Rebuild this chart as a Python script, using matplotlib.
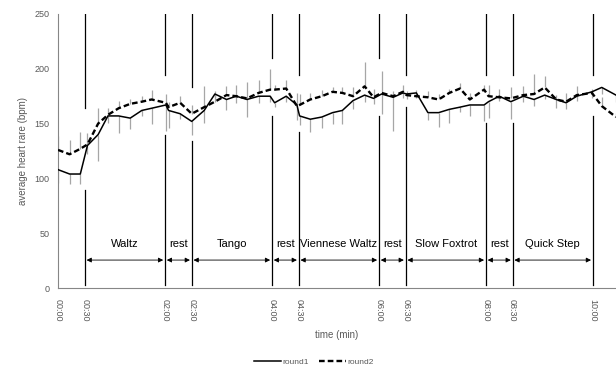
import matplotlib.pyplot as plt

plt.rcParams['font.family'] = ['Liberation Sans', 'DejaVu Sans']

# time of each sample (s) and mean heart rate for the two rounds
t_sec = [0, 13, 25, 33, 45, 56, 68, 81, 94, 105, 121, 124, 137, 150, 164,
         176, 189, 200, 212, 225, 238, 243, 256, 268, 271, 283, 296, 308,
         319, 331, 344, 354, 363, 376, 387, 391, 402, 415, 427, 439, 451,
         462, 478, 483, 495, 508, 522, 534, 546, 559, 570, 582, 599, 610, 626]
round1 = [108, 104, 104, 130, 140, 157, 157, 155, 162, 164, 167, 162, 159,
          152, 162, 177, 172, 175, 172, 175, 175, 169, 175, 167, 157, 154,
          156, 160, 162, 171, 176, 173, 177, 174, 178, 177, 178, 160, 160,
          163, 165, 167, 167, 170, 175, 170, 175, 172, 176, 172, 169, 175,
          179, 183, 176]
round2 = [126, 122, 127, 131, 150, 158, 164, 168, 170, 172, 169, 165, 169,
          159, 165, 170, 176, 175, 173, 178, 181, 181, 182, 166, 167, 172,
          175, 179, 178, 175, 184, 174, 178, 175, 179, 176, 175, 174, 172,
          178, 182, 172, 181, 175, 174, 173, 176, 177, 183, 172, 170, 176,
          178, 166, 156]
# error bars: round1 drawn below its line, round2 above
err1 = [12, 9, 9, 8, 24, 6, 16, 10, 5, 14, 24, 16, 5, 12, 11, 4, 10, 6, 16,
        6, 5, 4, 5, 14, 8, 12, 10, 10, 12, 8, 6, 5, 18, 31, 5, 5, 5, 7, 13,
        12, 4, 10, 15, 15, 4, 16, 5, 6, 4, 8, 6, 4, 6, 6, 6]
err2 = [13, 13, 15, 10, 14, 6, 7, 4, 5, 9, 8, 5, 6, 8, 19, 10, 8, 10, 15,
        12, 19, 4, 8, 12, 10, 6, 6, 4, 5, 8, 22, 8, 20, 5, 6, 4, 6, 6, 5, 4,
        5, 6, 4, 10, 8, 10, 8, 18, 10, 4, 8, 8, 4, 8, 4]

tick_sec = [0, 30, 120, 150, 240, 270, 360, 390, 480, 510, 600]
tick_labels = ['00:00', '00:30', '02:00', '02:30', '04:00', '04:30',
               '06:00', '06:30', '08:00', '08:30', '10:00']

# section boundaries and where each vertical marker is broken around the data
bounds = [30, 120, 150, 240, 270, 360, 390, 480, 510, 600]
gap_top = [164, 194, 183, 210, 194, 210, 194, 194, 194, 194]
gap_bottom = [89, 140, 134, 157, 142, 157, 165, 151, 151, 157]
sections = ['Waltz', 'rest', 'Tango', 'rest', 'Viennese Waltz', 'rest',
            'Slow Foxtrot', 'rest', 'Quick Step']

grey = '#595959'
fig = plt.figure(figsize=(6.16, 3.74), dpi=100)
ax = fig.add_axes([0.0942, 0.2299, 0.9058, 0.7327])

zeros = [0] * len(t_sec)
ax.errorbar(t_sec, round1, yerr=[err1, zeros], fmt='none', ecolor='#a6a6a6',
            elinewidth=0.9, capsize=0, zorder=1)
ax.errorbar(t_sec, round2, yerr=[zeros, err2], fmt='none', ecolor='#a6a6a6',
            elinewidth=0.9, capsize=0, zorder=1)
ax.plot(t_sec, round1, color='black', lw=1.1, label='round1', zorder=3)
ax.plot(t_sec, round2, color='black', lw=1.7, ls=(0, (2.4, 1.3)),
        label='round2', zorder=3)

for b, hi, lo in zip(bounds, gap_top, gap_bottom):
    ax.plot([b, b], [250, hi], color='black', lw=0.9, zorder=2)
    ax.plot([b, b], [lo, 3], color='black', lw=0.9, zorder=2)

for left, right, name in zip(bounds[:-1], bounds[1:], sections):
    ax.annotate('', xy=(left + 2, 25.5), xytext=(right - 2, 25.5),
                arrowprops=dict(arrowstyle='<|-|>', color='black', lw=0.6,
                                mutation_scale=7, shrinkA=0, shrinkB=0))
    ax.text((left + right) / 2, 36, name, ha='center', va='bottom',
            fontsize=8, color='black')

ax.set_xlim(0, 626)
ax.set_ylim(0, 250)
ax.set_yticks([0, 50, 100, 150, 200, 250])
ax.set_xticks(tick_sec)
ax.set_xticklabels(tick_labels, rotation=-90)
ax.tick_params(length=0, labelsize=6.5, labelcolor=grey)
ax.tick_params(axis='y', pad=6)
ax.tick_params(axis='x', pad=8)
for s in ['top', 'right']:
    ax.spines[s].set_visible(False)
for s in ['left', 'bottom']:
    ax.spines[s].set_color('#868686')
    ax.spines[s].set_linewidth(0.8)

ax.set_xlabel('time (min)', fontsize=7, color=grey, labelpad=6)
ax.set_ylabel('average heart rare (bpm)', fontsize=7, color=grey, labelpad=5)

fig.legend(loc='center', bbox_to_anchor=(0.51, 0.032), ncol=2, frameon=False,
           fontsize=6, handlelength=3.2, handletextpad=0.2, columnspacing=1.2,
           labelcolor=grey, borderpad=0.2)

fig.savefig('out.png', dpi=100)
